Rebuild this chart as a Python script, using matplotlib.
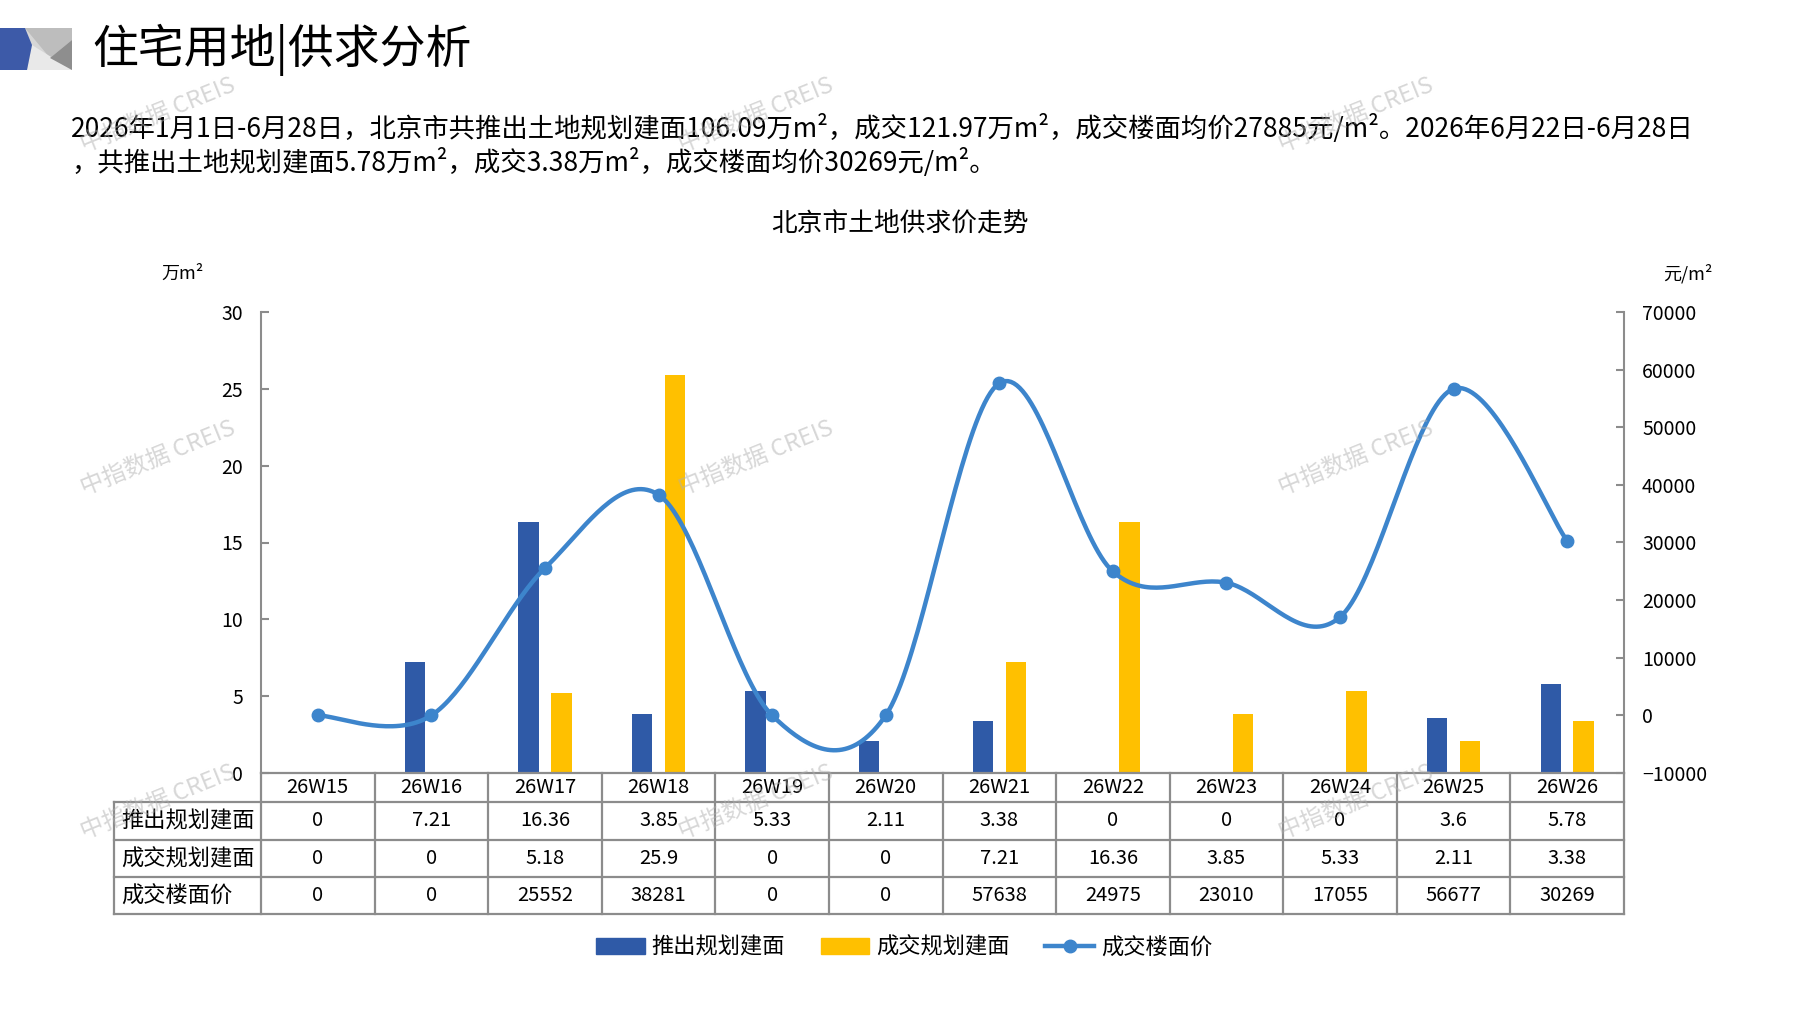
import matplotlib
matplotlib.use("Agg")
import matplotlib.pyplot as plt
from matplotlib.patches import Polygon, Patch
from matplotlib.lines import Line2D
import numpy as np

plt.rcParams["font.family"] = ["Noto Sans CJK SC", "DejaVu Sans"]

# data
weeks = ["26W15", "26W16", "26W17", "26W18", "26W19", "26W20",
         "26W21", "26W22", "26W23", "26W24", "26W25", "26W26"]
supply = [0, 7.21, 16.36, 3.85, 5.33, 2.11, 3.38, 0, 0, 0, 3.6, 5.78]
deal = [0, 0, 5.18, 25.9, 0, 0, 7.21, 16.36, 3.85, 5.33, 2.11, 3.38]
price = [0, 0, 25552, 38281, 0, 0, 57638, 24975, 23010, 17055, 56677, 30269]
row_names = ["推出规划建面", "成交规划建面", "成交楼面价"]
left_ticks = [0, 5, 10, 15, 20, 25, 30]
right_ticks = [-10000, 0, 10000, 20000, 30000, 40000, 50000, 60000, 70000]

title = "住宅用地|供求分析"
para1 = "2026年1月1日-6月28日，北京市共推出土地规划建面106.09万m²，成交121.97万m²，成交楼面均价27885元/m²。2026年6月22日-6月28日"
para2 = "，共推出土地规划建面5.78万m²，成交3.38万m²，成交楼面均价30269元/m²。"
chart_title = "北京市土地供求价走势"

BLUE = "#2F5AA7"
YELLOW = "#FFC000"
LINE = "#3D85CC"
GRAY = "#8C8C8C"

W, H = 1797, 1010
fig = plt.figure(figsize=(W / 100, H / 100), dpi=100)


def fx(x):
    return x / W


def fy(y):
    return 1 - y / H


def smooth(xs, ys, n=40):
    # excel-like smoothed line (catmull-rom as bezier)
    pts = np.column_stack([xs, ys]).astype(float)
    ext = np.vstack([pts[0], pts, pts[-1]])
    out = []
    t = np.linspace(0, 1, n)[:, None]
    for i in range(len(pts) - 1):
        p0, p1, p2, p3 = ext[i], ext[i + 1], ext[i + 2], ext[i + 3]
        c1 = p1 + (p2 - p0) / 6
        c2 = p2 - (p3 - p1) / 6
        seg = (1 - t) ** 3 * p1 + 3 * (1 - t) ** 2 * t * c1 + 3 * (1 - t) * t ** 2 * c2 + t ** 3 * p2
        out.append(seg if i == 0 else seg[1:])
    return np.vstack(out)


# header icon
icon = [
    ([(25, 28), (72, 28), (72, 70), (25, 70)], "#D6D6D6"),
    ([(25, 28), (72, 28), (72, 40), (50, 58)], "#BDBDBD"),
    ([(32, 45), (72, 70), (27, 70)], "#E9E9E9"),
    ([(50, 58), (72, 40), (72, 70)], "#8E8E8E"),
    ([(0, 28), (25, 28), (32, 45), (27, 70), (0, 70)], "#3D5AA8"),
]
for pts, c in icon:
    fig.add_artist(Polygon([(fx(a), fy(b)) for a, b in pts], closed=True,
                           color=c, transform=fig.transFigure, lw=0))

fig.text(fx(92), fy(50), title, fontsize=33, va="center", ha="left")
fig.text(fx(71), fy(129), para1, fontsize=19, va="center", ha="left")
fig.text(fx(71), fy(162), para2, fontsize=19, va="center", ha="left")
fig.text(fx(900), fy(225), chart_title, fontsize=18.5, va="center", ha="center")
fig.text(fx(183), fy(274), "万m²", fontsize=13, va="center", ha="center")
fig.text(fx(1688), fy(274), "元/m²", fontsize=13, va="center", ha="center")

# chart
x0, x1, y0, y1 = 261, 1624, 312, 773
ax = fig.add_axes([fx(x0), fy(y1), (x1 - x0) / W, (y1 - y0) / H])
ax2 = ax.twinx()

x = np.arange(len(weeks))
ax.bar(x - 0.145, supply, 0.18, color=BLUE, zorder=2)
ax.bar(x + 0.145, deal, 0.18, color=YELLOW, zorder=2)
ax.set_xlim(-0.5, len(weeks) - 0.5)
ax.set_ylim(0, 30)
ax.set_yticks(left_ticks)
ax.set_xticks([])
ax2.set_ylim(-10000, 70000)
ax2.set_yticks(right_ticks)

curve = smooth(x, price)
ax2.plot(curve[:, 0], curve[:, 1], color=LINE, lw=3.2, solid_capstyle="round")
ax2.plot(x, price, "o", color=LINE, ms=9)

for a in (ax, ax2):
    for s in a.spines.values():
        s.set_visible(False)
    a.tick_params(axis="y", direction="in", length=6, width=1.5, color=GRAY,
                  labelsize=14, pad=13)
ax.spines["left"].set_visible(True)
ax.spines["left"].set_color(GRAY)
ax.spines["left"].set_linewidth(1.5)
ax2.spines["right"].set_visible(True)
ax2.spines["right"].set_color(GRAY)
ax2.spines["right"].set_linewidth(1.5)

# data table
col_edges = np.linspace(x0, x1, len(weeks) + 1)
row_edges = [773, 802, 840, 877, 914]
tab_left = 114


def hline(xa, xb, y):
    fig.add_artist(Line2D([fx(xa), fx(xb)], [fy(y), fy(y)], color=GRAY, lw=1.6,
                          transform=fig.transFigure))


def vline(xp, ya, yb):
    fig.add_artist(Line2D([fx(xp), fx(xp)], [fy(ya), fy(yb)], color=GRAY, lw=1.6,
                          transform=fig.transFigure))


for i, yy in enumerate(row_edges):
    hline(x0 if i == 0 else tab_left, x1, yy)
for xe in col_edges:
    vline(xe, row_edges[0], row_edges[-1])
vline(tab_left, row_edges[1], row_edges[-1])

cx = (col_edges[:-1] + col_edges[1:]) / 2
cy = [(row_edges[i] + row_edges[i + 1]) / 2 for i in range(4)]
for i, wk in enumerate(weeks):
    fig.text(fx(cx[i]), fy(cy[0]), wk, fontsize=14.5, ha="center", va="center")
for r, vals in enumerate([supply, deal, price]):
    fig.text(fx(121), fy(cy[r + 1]), row_names[r], fontsize=16, ha="left", va="center")
    for i, v in enumerate(vals):
        fig.text(fx(cx[i]), fy(cy[r + 1]), f"{v:g}", fontsize=14.5, ha="center", va="center")

# legend
handles = [
    Patch(color=BLUE, label=row_names[0]),
    Patch(color=YELLOW, label=row_names[1]),
    Line2D([], [], color=LINE, lw=3.2, marker="o", ms=9, label=row_names[2]),
]
fig.legend(handles=handles, loc="center", bbox_to_anchor=(fx(904), fy(947)),
           ncol=3, frameon=False, fontsize=16, handlelength=2.2,
           handletextpad=0.3, columnspacing=1.6)

# watermarks
for wx in (158, 756, 1356):
    for wy in (115, 458, 802):
        fig.text(fx(wx), fy(wy), "中指数据 CREIS", fontsize=17, rotation=22,
                 color="#B0B0B0", alpha=0.5, ha="center", va="center", zorder=10)

fig.savefig("out.png", dpi=100)
